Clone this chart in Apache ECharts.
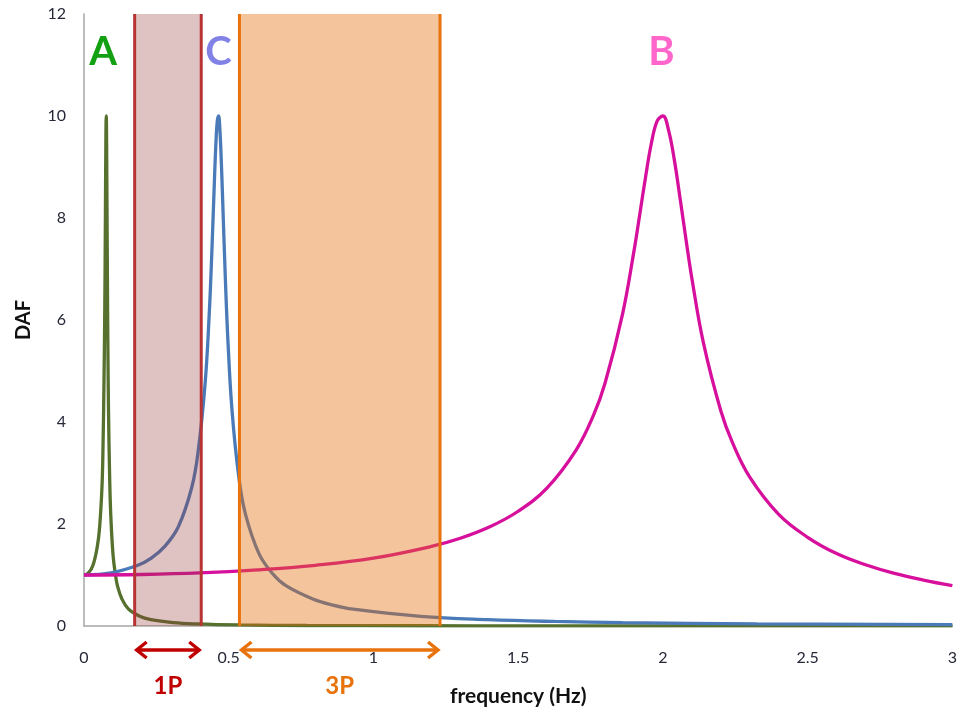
<!DOCTYPE html>
<html>
<head>
<meta charset="utf-8">
<title>DAF vs frequency</title>
<script src="https://cdn.jsdelivr.net/npm/echarts@6/dist/echarts.min.js"></script>
<style>
  html, body { margin: 0; padding: 0; background: #ffffff; }
  #chart { width: 960px; height: 712px; }
</style>
</head>
<body>
<div id="chart"></div>
<script>
// Dynamic amplification factor curves for three structures (A, C, B)
const aFreq = [0, 0.0154, 0.031, 0.046, 0.054, 0.062, 0.0655, 0.069, 0.0716, 0.0732, 0.0747, 0.0755, 0.0762, 0.077, 0.0778, 0.0785, 0.0793, 0.0809, 0.0824, 0.0847, 0.0886, 0.0924, 0.100, 0.108, 0.1155, 0.131, 0.154, 0.1925, 0.231, 0.308, 0.385, 0.539, 0.77, 1.155, 1.54, 2.31, 3.0];
const aDaf  = [1, 1.04, 1.19, 1.56, 1.94, 2.71, 3.45, 4.76, 6.10, 7.35, 8.80, 9.46, 9.90, 10.0, 9.71, 9.12, 8.36, 6.82, 5.55, 4.22, 2.92, 2.19, 1.42, 1.03, 0.79, 0.53, 0.33, 0.19, 0.125, 0.067, 0.042, 0.021, 0.010, 0.0045, 0.0025, 0.0011, 0.0007];

const cFreq = [0, 0.093, 0.186, 0.2325, 0.279, 0.3255, 0.372, 0.395, 0.4185, 0.4325, 0.4418, 0.451, 0.4557, 0.4604, 0.465, 0.4697, 0.4743, 0.479, 0.4883, 0.4976, 0.5115, 0.5348, 0.558, 0.6045, 0.651, 0.6975, 0.7905, 0.86, 0.93, 1.1625, 1.395, 1.6275, 1.86, 2.325, 3.0];
const cDaf  = [1, 1.04, 1.19, 1.33, 1.56, 1.94, 2.71, 3.45, 4.76, 6.10, 7.35, 8.80, 9.46, 9.90, 10.0, 9.71, 9.12, 8.36, 6.82, 5.55, 4.22, 2.92, 2.19, 1.42, 1.03, 0.79, 0.53, 0.41, 0.33, 0.19, 0.125, 0.089, 0.067, 0.042, 0.025];

const bFreq = [0, 0.2, 0.4, 0.6, 0.8, 1.0, 1.2, 1.3, 1.4, 1.5, 1.6, 1.7, 1.76, 1.8, 1.86, 1.9, 1.92, 1.94, 1.96, 1.98, 2.0, 2.02, 2.04, 2.06, 2.08, 2.1, 2.14, 2.2, 2.24, 2.3, 2.4, 2.5, 2.6, 2.7, 2.8, 2.9, 3.0];
const bDaf  = [1, 1.01, 1.04, 1.10, 1.19, 1.33, 1.56, 1.72, 1.94, 2.25, 2.71, 3.45, 4.13, 4.76, 6.10, 7.35, 8.07, 8.80, 9.46, 9.90, 10.0, 9.71, 9.12, 8.36, 7.57, 6.82, 5.55, 4.22, 3.60, 2.92, 2.19, 1.74, 1.42, 1.20, 1.03, 0.90, 0.79];

// Excitation frequency ranges (rotor 1P and blade-passing 3P)
const bandNames = ['1P', '3P'];
const bandFrom  = [0.175, 0.537];
const bandTo    = [0.405, 1.23];

// Curve labels placed above each resonance peak
const peakNames = ['A', 'C', 'B'];
const peakLabelFreq = [0.066, 0.465, 1.995];
const peakLabelDaf  = [11.26, 11.26, 11.26];

// Axis ticks
const xTicks = [0, 0.5, 1, 1.5, 2, 2.5, 3];
const yTicks = [0, 2, 4, 6, 8, 10, 12];

const zip = (xs, ys) => xs.map((x, i) => [x, ys[i]]);

const lineColors = { A: '#56702e', C: '#4a7ab8', B: '#d6109c' };
const bandFill   = ['rgba(149,55,53,0.30)', 'rgba(228,108,10,0.40)'];
const bandEdge   = ['#b83434', '#e8720c'];
const bandText   = ['#c00000', '#e8720c'];
const peakColors = ['#13a013', '#8282e6', '#ff66cc'];
const FONT = 'Lato, "Open Sans", sans-serif';

const chart = echarts.init(document.getElementById('chart'), null, { renderer: 'canvas' });

function curve(name, data) {
  return {
    name, type: 'line', data,
    showSymbol: false, symbol: 'none',
    smooth: 0.4,
    lineStyle: { width: 3.3, color: lineColors[name] },
    z: 2, silent: true, animation: false
  };
}

chart.setOption({
  backgroundColor: '#ffffff',
  animation: false,
  grid: { left: 84, right: 4, top: 14, bottom: 83, containLabel: false },
  xAxis: {
    type: 'value', min: xTicks[0], max: xTicks[xTicks.length - 1], interval: 0.5,
    name: 'frequency (Hz)', nameLocation: 'middle', nameGap: 60,
    nameTextStyle: { fontFamily: FONT, fontWeight: 'bold', fontSize: 21, color: '#111' },
    axisLine: { show: true, lineStyle: { color: '#a6a6a6', width: 1.5 } },
    axisTick: { show: false },
    splitLine: { show: false },
    axisLabel: { fontFamily: FONT, fontSize: 16, color: '#262838', margin: 24 }
  },
  yAxis: {
    type: 'value', min: yTicks[0], max: yTicks[yTicks.length - 1], interval: 2,
    name: 'DAF', nameLocation: 'middle', nameGap: 50, nameRotate: 90,
    nameTextStyle: { fontFamily: FONT, fontWeight: 'bold', fontSize: 20, color: '#111' },
    axisLine: { show: true, lineStyle: { color: '#a6a6a6', width: 1.5 } },
    axisTick: { show: false },
    splitLine: { show: false },
    axisLabel: { fontFamily: FONT, fontSize: 16, color: '#262838', margin: 18 }
  },
  series: [
    curve('A', zip(aFreq, aDaf)),
    curve('C', zip(cFreq, cDaf)),
    curve('B', zip(bFreq, bDaf)),
    {
      // translucent frequency bands with edge lines, range arrows and labels
      type: 'custom', z: 10, silent: true, clip: false,
      data: bandFrom.map((f, i) => [f, bandTo[i], i]),
      encode: { x: [0, 1] },
      renderItem(params, api) {
        const i = api.value(2);
        const cs = params.coordSys;
        const x0 = api.coord([api.value(0), 0])[0];
        const x1 = api.coord([api.value(1), 0])[0];
        const top = cs.y, bottom = cs.y + cs.height;
        const ay = bottom + 24;
        const head = 12, half = 8;
        const stroke = { stroke: bandEdge[i], lineWidth: 3 };
        const arrowStroke = { stroke: bandText[i], lineWidth: 3.4, lineJoin: 'miter', lineCap: 'butt' };
        return {
          type: 'group',
          children: [
            { type: 'rect', shape: { x: x0, y: top, width: x1 - x0, height: bottom - top }, style: { fill: bandFill[i] } },
            { type: 'line', shape: { x1: x0, y1: top, x2: x0, y2: bottom }, style: stroke },
            { type: 'line', shape: { x1: x1, y1: top, x2: x1, y2: bottom }, style: stroke },
            { type: 'line', shape: { x1: x0 + 2, y1: ay, x2: x1 - 2, y2: ay }, style: arrowStroke },
            { type: 'polyline', shape: { points: [[x0 + head, ay - half], [x0 + 2, ay], [x0 + head, ay + half]] }, style: Object.assign({ fill: null }, arrowStroke) },
            { type: 'polyline', shape: { points: [[x1 - head, ay - half], [x1 - 2, ay], [x1 - head, ay + half]] }, style: Object.assign({ fill: null }, arrowStroke) },
            { type: 'text', style: { text: bandNames[i], x: (x0 + x1) / 2, y: bottom + 60, align: 'center', verticalAlign: 'middle', font: 'bold 24px ' + FONT, fill: bandText[i] } }
          ]
        };
      }
    },
    {
      // letters naming each curve
      type: 'custom', z: 12, silent: true, clip: false,
      data: peakLabelFreq.map((f, i) => [f, peakLabelDaf[i], i]),
      encode: { x: 0, y: 1 },
      renderItem(params, api) {
        const i = api.value(2);
        const p = api.coord([api.value(0), api.value(1)]);
        return {
          type: 'text',
          style: { text: peakNames[i], x: p[0], y: p[1], align: 'center', verticalAlign: 'middle', font: 'bold 40px ' + FONT, fill: peakColors[i] }
        };
      }
    }
  ]
});
</script>
</body>
</html>
